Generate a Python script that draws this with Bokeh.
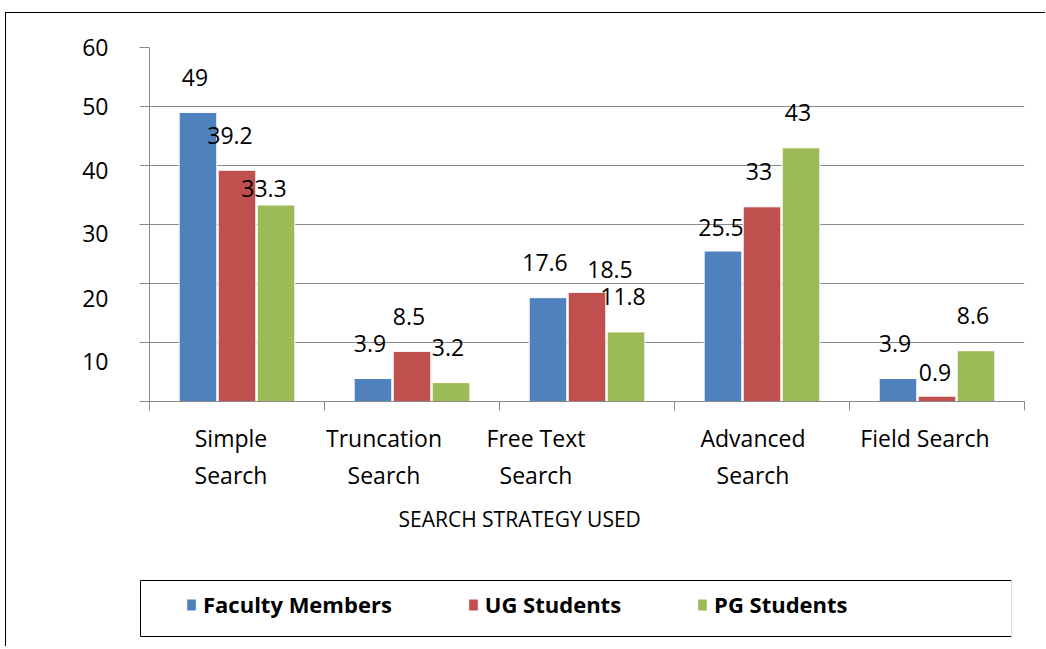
import numpy as np
from bokeh.plotting import figure
from bokeh.layouts import column, row
from bokeh.models import (ColumnDataSource, FixedTicker, Range1d, Legend, LegendItem,
                          Title, CustomJSTickFormatter, Spacer)
from bokeh.transform import dodge
from bokeh.core.properties import value
from bokeh.embed import file_html
from bokeh.resources import INLINE

# ---------------- data ----------------
categories = ["Simple\nSearch", "Truncation\nSearch", "Free Text\nSearch",
              "Advanced\nSearch", "Field Search"]
series = ["Faculty Members", "UG Students", "PG Students"]
faculty = [49, 3.9, 17.6, 25.5, 3.9]
ug_students = [39.2, 8.5, 18.5, 33, 0.9]
pg_students = [33.3, 3.2, 11.8, 43, 8.6]
y_ticks = [0, 10, 20, 30, 40, 50, 60]
x_title = "SEARCH STRATEGY USED"

# ---------------- style ----------------
colors = ["#4F81BD", "#C0504D", "#9BBB59"]
FONT = "Open Sans"
GRID = "#8a8a8a"
bar_offsets = [-0.223, 0.0, 0.223]
bar_width = 0.215
label_dx, label_dy = -3, -35
label_nudge = {(1, 0): (-4, 0), (2, 0): (-9, 18), (1, 2): (26, 12),
               (0, 3): (1, 11), (1, 4): (1, 11)}
cat_label_shift = [-6, -28, -51, -9, -12]       # px
y_label_shift = [0, 19, 15, 9, 5, 0, 0]          # px (downwards)

# page geometry (content origin after margin)
OX, OY = 6, 13
FRAME_L, FRAME_R, FRAME_T, FRAME_B = 149, 1024, 47, 401
LEG_L, LEG_R, LEG_T, LEG_B = 140, 1011, 580, 636

W = 1040
H = (LEG_T - 1) - OY
frame_w = FRAME_R - FRAME_L
frame_h = FRAME_B - FRAME_T

n = len(categories)
centers = np.arange(n) + 0.5

p = figure(width=W, height=H, x_range=Range1d(0, n), y_range=Range1d(0, 60),
           output_backend="svg", toolbar_location=None,
           min_border_left=FRAME_L - OX, min_border_right=OX + W - FRAME_R,
           min_border_top=FRAME_T - OY, min_border_bottom=OY + H - FRAME_B)
p.outline_line_color = None

values = [faculty, ug_students, pg_students]
for k, vals in enumerate(values):
    dxs = [label_dx + label_nudge.get((k, i), (0, 0))[0] for i in range(n)]
    dys = [label_dy + label_nudge.get((k, i), (0, 0))[1] for i in range(n)]
    src = ColumnDataSource(dict(x=centers, top=vals,
                                label=[f"{v:g}" for v in vals], dx=dxs, dy=dys))
    p.vbar(x=dodge("x", bar_offsets[k]), top="top", bottom=0, width=bar_width,
           source=src, fill_color=colors[k], line_color="white", line_width=1)
    p.text(x=dodge("x", bar_offsets[k]), y="top", text="label", x_offset="dx",
           y_offset="dy", source=src, text_align="center", text_baseline="middle",
           text_font=value(FONT), text_font_size="23px", text_color="black")

# ---------------- axes ----------------
p.xgrid.grid_line_color = None
p.ygrid.grid_line_color = GRID
p.ygrid.grid_line_width = 1
p.ygrid.ticker = FixedTicker(ticks=y_ticks)

px_per_unit = frame_h / 60.0
ylab_pos = [float(t - s / px_per_unit) for t, s in zip(y_ticks, y_label_shift)]
p.yaxis.ticker = FixedTicker(ticks=ylab_pos, minor_ticks=y_ticks)
p.yaxis.formatter = CustomJSTickFormatter(
    args=dict(labels=[("" if t == 0 else str(t)) for t in y_ticks]),
    code="return labels[index];")
p.yaxis.axis_line_color = GRID
p.yaxis.major_tick_line_color = None
p.yaxis.major_tick_out = 0
p.yaxis.major_tick_in = 0
p.yaxis.minor_tick_line_color = GRID
p.yaxis.minor_tick_out = 10
p.yaxis.minor_tick_in = 0
p.yaxis.major_label_standoff = 31
p.yaxis.major_label_text_font = FONT
p.yaxis.major_label_text_font_size = "23px"
p.yaxis.major_label_text_color = "black"

px_per_cat = frame_w / n
tick_pos = [float(c + s / px_per_cat) for c, s in zip(centers, cat_label_shift)]
p.xaxis.ticker = FixedTicker(ticks=tick_pos, minor_ticks=list(range(n + 1)))
p.xaxis.formatter = CustomJSTickFormatter(args=dict(labels=categories),
                                          code="return labels[index];")
p.xaxis.axis_line_color = GRID
p.xaxis.major_tick_line_color = None
p.xaxis.major_tick_out = 0
p.xaxis.major_tick_in = 0
p.xaxis.minor_tick_line_color = GRID
p.xaxis.minor_tick_out = 9
p.xaxis.minor_tick_in = 0
p.xaxis.major_label_standoff = 11
p.xaxis.major_label_text_font = FONT
p.xaxis.major_label_text_font_size = "23px"
p.xaxis.major_label_text_line_height = 1.18
p.xaxis.major_label_text_color = "black"

title = Title(text=x_title, align="left", offset=249, text_font=FONT,
              text_font_size="21px", text_font_style="normal", text_color="black",
              standoff=17)
p.add_layout(title, "below")

# ---------------- legend (own small frame) ----------------
lf = figure(width=(LEG_R - LEG_L) + 2, height=(LEG_B - LEG_T) + 2,
            x_range=Range1d(0, 1), y_range=Range1d(0, 1),
            output_backend="svg", toolbar_location=None,
            min_border_left=1, min_border_right=1, min_border_top=1, min_border_bottom=1)
lf.axis.visible = False
lf.grid.grid_line_color = None
lf.outline_line_color = "black"
lf.outline_line_width = 1
items = []
for k in range(3):
    # legend swatches only: the point lies outside this small frame's range
    r = lf.vbar(x=[5], top=[1], width=0.1, fill_color=colors[k], line_color="white")
    items.append(LegendItem(label=series[k], renderers=[r]))
legend = Legend(items=items, orientation="horizontal", location=(45, 17),
                padding=0, margin=0, spacing=75, glyph_width=12, glyph_height=15,
                label_standoff=6, label_text_font=FONT, label_text_font_size="22px",
                label_text_font_style="bold", label_text_color="black",
                border_line_alpha=0, background_fill_alpha=0)
lf.add_layout(legend, "center")

layout = column(p, row(Spacer(width=LEG_L - 1 - OX, height=1), lf),
                Spacer(width=1, height=10),
                margin=(OY, 0, 0, OX), spacing=0,
                styles={"box-shadow": "-1px -1px 0 0 #000"})

open("out.html", "w").write(file_html(layout, INLINE))
